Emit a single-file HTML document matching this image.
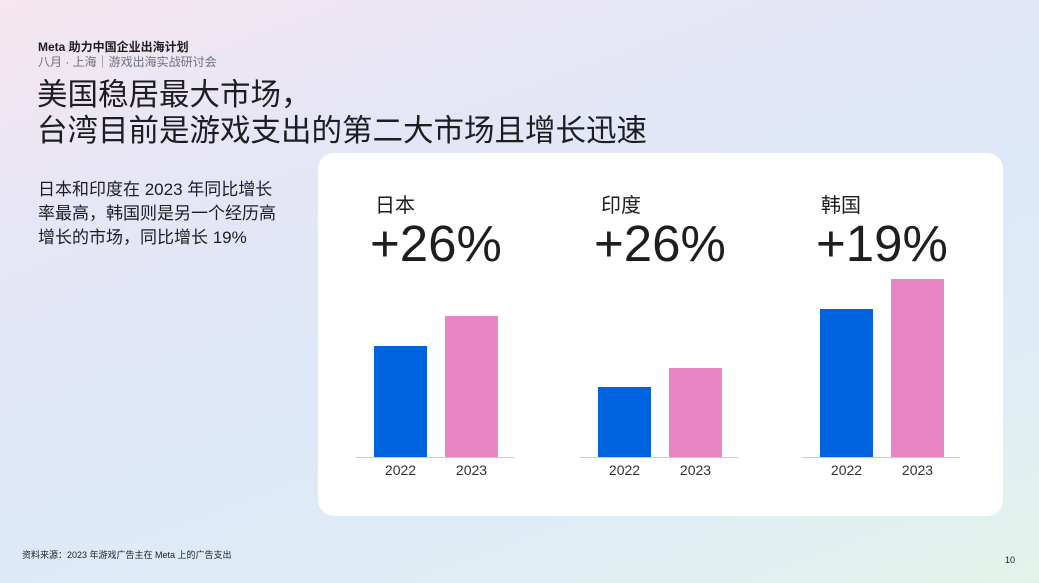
<!DOCTYPE html><html><head><meta charset="utf-8"><style>
body{margin:0}
#p{position:relative;width:1039px;height:583px;overflow:hidden;font-family:"Liberation Sans","Noto Sans CJK SC",sans-serif;color:#1c1e21;
background:linear-gradient(160deg,#f6e6ee 0%,#e6e6f6 25%,#dde8f8 55%,#dfeef4 80%,#e2f4ea 100%);}
.t{position:absolute;white-space:nowrap}
.card{position:absolute;left:318px;top:153px;width:685px;height:363px;background:#fff;border-radius:16px}
.bar{position:absolute;width:53px}
.b{background:#0064e0}.k{background:#e985c4}
.base{position:absolute;height:1px;background:#c8ccd0;width:158px;top:457px}
.yr{position:absolute;font-size:14px;color:#333;top:462px;width:53px;text-align:center}
.h{font-size:20px;top:189px}
.pc{font-size:51px;top:214px;letter-spacing:0px}
</style></head><body><div id="p">
<div class="t" style="left:38px;top:38px;font-size:12px;font-weight:bold">Meta 助力中国企业出海计划</div>
<div class="t" style="left:38px;top:53px;font-size:12px;color:#6b7280">八月 · 上海｜游戏出海实战研讨会</div>
<div class="t" style="left:37px;top:77px;font-size:30.5px;line-height:36px">美国稳居最大市场，<br>台湾目前是游戏支出的第二大市场且增长迅速</div>
<div class="t" style="left:38px;top:178px;font-size:17px;line-height:24px">日本和印度在 2023 年同比增长<br>率最高，韩国则是另一个经历高<br>增长的市场，同比增长 19%</div>
<div class="card"></div>
<div class="t h" style="left:375px">日本</div><div class="t pc" style="left:370px">+26%</div>
<div class="t h" style="left:601px">印度</div><div class="t pc" style="left:594px">+26%</div>
<div class="t h" style="left:821px">韩国</div><div class="t pc" style="left:816px">+19%</div>
<div class="bar b" style="left:374px;top:346px;height:111px"></div>
<div class="bar k" style="left:445px;top:316px;height:141px"></div>
<div class="bar b" style="left:598px;top:387px;height:70px"></div>
<div class="bar k" style="left:669px;top:368px;height:89px"></div>
<div class="bar b" style="left:820px;top:309px;height:148px"></div>
<div class="bar k" style="left:891px;top:279px;height:178px"></div>
<div class="base" style="left:356px"></div><div class="base" style="left:580px"></div><div class="base" style="left:802px"></div>
<div class="yr" style="left:374px">2022</div><div class="yr" style="left:445px">2023</div>
<div class="yr" style="left:598px">2022</div><div class="yr" style="left:669px">2023</div>
<div class="yr" style="left:820px">2022</div><div class="yr" style="left:891px">2023</div>
<div class="t" style="left:22px;top:548px;font-size:9px">资料来源：2023 年游戏广告主在 Meta 上的广告支出</div>
<div class="t" style="left:1005px;top:555px;font-size:9px">10</div>
</div></body></html>
